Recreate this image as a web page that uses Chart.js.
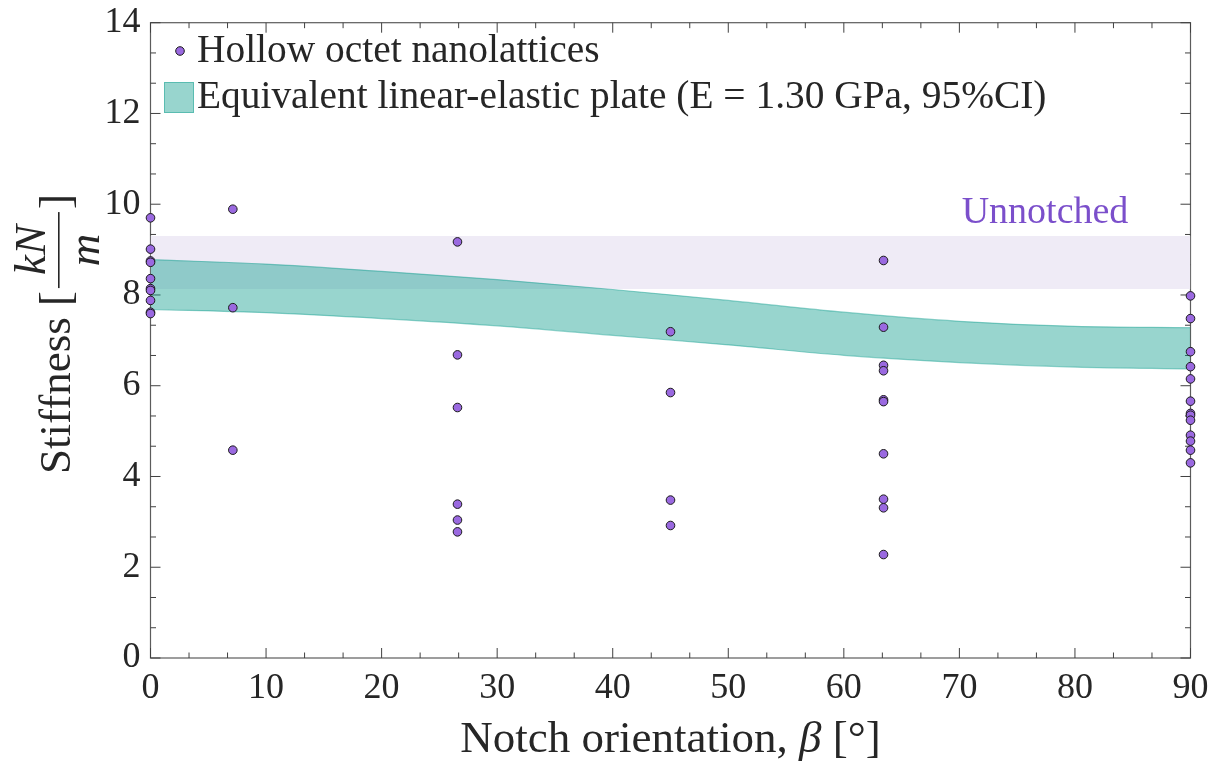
<!DOCTYPE html>
<html>
<head>
<meta charset="utf-8">
<script src="https://cdn.jsdelivr.net/npm/chart.js@4"></script>
<style>
  html, body { margin: 0; padding: 0; background: #fff; }
  #wrap { width: 1217px; height: 766px; position: relative; }
</style>
</head>
<body>
<div id="wrap"><canvas id="stiffChart"></canvas></div>
<script>
// notch orientations (deg) and measured stiffness per orientation (kN/m)
const notchAngles = [0, 7.125, 26.565, 45, 63.435, 90];
const stiffAt0 = [9.70, 9.01, 8.75, 8.72, 8.36, 8.14, 8.10, 7.88, 7.62, 7.59];
const stiffAt7 = [9.89, 7.72, 4.58];
const stiffAt27 = [9.17, 6.68, 5.52, 3.39, 3.04, 2.78];
const stiffAt45 = [7.19, 5.85, 3.48, 2.92];
const stiffAt63 = [8.76, 7.29, 6.45, 6.33, 5.69, 5.65, 4.50, 3.50, 3.31, 2.28];
const stiffAt90 = [7.98, 7.48, 6.75, 6.42, 6.15, 5.66, 5.39, 5.35, 5.24, 4.91, 4.78, 4.58, 4.30];

// linear-elastic plate prediction, 95% CI bounds
const plateBeta = [0, 10, 20, 30, 40, 50, 60, 70, 80, 90];
const plateUpper = [8.78, 8.68, 8.52, 8.34, 8.12, 7.88, 7.62, 7.42, 7.31, 7.28];
const plateLower = [7.68, 7.61, 7.48, 7.32, 7.11, 6.90, 6.67, 6.51, 6.41, 6.37];

// unnotched specimen range
const unnotchedRange = [8.13, 9.30];

const xTicks = [0, 10, 20, 30, 40, 50, 60, 70, 80, 90];
const yTicks = [0, 2, 4, 6, 8, 10, 12, 14];

const FONT = '"Liberation Serif", "Times New Roman", serif';
const TEXT = '#262626';
const PURPLE = '#9A69E0';
const TEAL_FILL = 'rgba(16, 157, 141, 0.43)';
const TEAL_EDGE = 'rgba(16, 157, 141, 0.45)';
const LAVENDER = '#EFEBF6';

const groups = [stiffAt0, stiffAt7, stiffAt27, stiffAt45, stiffAt63, stiffAt90];
const points = [];
groups.forEach((vals, i) => {
    vals.forEach(v => points.push({ x: notchAngles[i], y: v }));
});

const toXY = (xs, ys) => xs.map((x, i) => ({ x: x, y: ys[i] }));

// inward ticks on all four sides + box
const boxPlugin = {
    id: 'box',
    beforeDatasetsDraw(chart) {
        const { ctx, chartArea: a, scales } = chart;
        const xs = scales.x, ys = scales.y;
        ctx.save();
        ctx.strokeStyle = '#5c5c5c';
        ctx.lineWidth = 1.2;
        ctx.strokeRect(a.left, a.top, a.right - a.left, a.bottom - a.top);
        ctx.strokeStyle = '#404040';
        ctx.lineWidth = 1;
        const major = 10, minor = 5.5;
        for (let k = 0; k <= 27; k++) {
            const v = k * 10 / 3;
            const len = (k % 3 === 0) ? major : minor;
            const px = xs.getPixelForValue(v);
            ctx.beginPath();
            ctx.moveTo(px, a.bottom); ctx.lineTo(px, a.bottom - len);
            ctx.moveTo(px, a.top); ctx.lineTo(px, a.top + len);
            ctx.stroke();
        }
        for (let k = 0; k <= 21; k++) {
            const v = k * 2 / 3;
            const len = (k % 3 === 0) ? major : minor;
            const py = ys.getPixelForValue(v);
            ctx.beginPath();
            ctx.moveTo(a.left, py); ctx.lineTo(a.left + len, py);
            ctx.moveTo(a.right, py); ctx.lineTo(a.right - len, py);
            ctx.stroke();
        }
        ctx.restore();
    }
};

// axis titles, legend and the "Unnotched" note
const labelsPlugin = {
    id: 'labels',
    afterDraw(chart) {
        const { ctx, chartArea: a } = chart;
        ctx.save();
        ctx.fillStyle = TEXT;
        ctx.textBaseline = 'alphabetic';

        // x title: Notch orientation, β [°]
        const titleSize = 45;
        const parts = [
            { t: 'Notch orientation, ', f: `${titleSize}px ${FONT}` },
            { t: 'β', f: `italic ${titleSize}px ${FONT}` },
            { t: ' [°]', f: `${titleSize}px ${FONT}` }
        ];
        let total = 0;
        parts.forEach(p => { ctx.font = p.f; p.w = ctx.measureText(p.t).width; total += p.w; });
        let x = (a.left + a.right) / 2 - total / 2;
        ctx.textAlign = 'left';
        parts.forEach(p => { ctx.font = p.f; ctx.fillText(p.t, x, 752); x += p.w; });

        // y title: Stiffness [kN/m], rotated
        ctx.save();
        ctx.translate(70, 474);
        ctx.rotate(-Math.PI / 2);
        ctx.font = `${titleSize}px ${FONT}`;
        ctx.fillText('Stiffness', 0, 0);
        let u = ctx.measureText('Stiffness ').width;
        ctx.fillText('[', u, 0);
        u += ctx.measureText('[').width + 3;
        ctx.font = `italic ${titleSize}px ${FONT}`;
        const wNum = ctx.measureText('kN').width;
        const wDen = ctx.measureText('m').width;
        const wFrac = Math.max(wNum, wDen) + 26;
        ctx.textAlign = 'center';
        ctx.fillText('kN', u + wFrac / 2, -25);
        ctx.fillText('m', u + wFrac / 2, 29);
        ctx.fillRect(u, -12, wFrac, 1.6);
        u += wFrac + 3;
        ctx.textAlign = 'left';
        ctx.font = `${titleSize}px ${FONT}`;
        ctx.fillText(']', u, 0);
        ctx.restore();

        // legend
        const legSize = 39.4;
        ctx.font = `${legSize}px ${FONT}`;
        ctx.textBaseline = 'middle';
        ctx.beginPath();
        ctx.arc(180, 51, 4.3, 0, Math.PI * 2);
        ctx.fillStyle = PURPLE;
        ctx.fill();
        ctx.strokeStyle = '#1a1a1a';
        ctx.lineWidth = 1;
        ctx.stroke();
        ctx.fillStyle = TEXT;
        ctx.fillText('Hollow octet nanolattices', 197, 52);

        ctx.fillStyle = TEAL_FILL;
        ctx.fillRect(164, 82, 30, 31);
        ctx.strokeStyle = TEAL_EDGE;
        ctx.strokeRect(164.5, 82.5, 29, 30);
        ctx.fillStyle = TEXT;
        ctx.fillText('Equivalent linear-elastic plate (E = 1.30 GPa, 95%CI)', 197, 98);

        // unnotched note
        ctx.font = `38px ${FONT}`;
        ctx.fillStyle = '#7B4FCB';
        ctx.textAlign = 'center';
        ctx.fillText('Unnotched', 1045, 213);
        ctx.restore();
    }
};

const ctx = document.getElementById('stiffChart').getContext('2d');
new Chart(ctx, {
    data: {
        datasets: [{
            type: 'scatter',
            label: 'Hollow octet nanolattices',
            data: points,
            pointRadius: 4.3,
            pointBackgroundColor: PURPLE,
            pointBorderColor: '#1a1a1a',
            pointBorderWidth: 1,
            clip: false,
            order: 0
        }, {
            type: 'line',
            label: 'plate upper',
            data: toXY(plateBeta, plateUpper),
            borderColor: TEAL_EDGE,
            borderWidth: 1.2,
            pointRadius: 0,
            cubicInterpolationMode: 'monotone',
            fill: false,
            order: 1
        }, {
            type: 'line',
            label: 'plate lower',
            data: toXY(plateBeta, plateLower),
            borderColor: TEAL_EDGE,
            backgroundColor: TEAL_FILL,
            borderWidth: 1.2,
            pointRadius: 0,
            cubicInterpolationMode: 'monotone',
            fill: '-1',
            order: 1
        }, {
            type: 'line',
            label: 'unnotched upper',
            data: toXY([0, 90], [unnotchedRange[1], unnotchedRange[1]]),
            borderWidth: 0,
            pointRadius: 0,
            fill: false,
            order: 2
        }, {
            type: 'line',
            label: 'unnotched lower',
            data: toXY([0, 90], [unnotchedRange[0], unnotchedRange[0]]),
            borderWidth: 0,
            backgroundColor: LAVENDER,
            pointRadius: 0,
            fill: '-1',
            order: 2
        }]
    },
    options: {
        responsive: true,
        maintainAspectRatio: false,
        animation: false,
        layout: { padding: { top: 22.7, right: 26.5, bottom: 0, left: 0 } },
        plugins: {
            legend: { display: false },
            tooltip: { enabled: false }
        },
        scales: {
            x: {
                type: 'linear',
                min: 0,
                max: 90,
                afterBuildTicks: s => { s.ticks = xTicks.map(v => ({ value: v })); },
                afterFit: s => { s.height = 108; s.paddingLeft = 0; s.paddingRight = 0; },
                grid: { display: false, drawTicks: false },
                border: { display: false },
                ticks: { color: TEXT, padding: 9, maxRotation: 0, font: { family: FONT, size: 36 } }
            },
            y: {
                type: 'linear',
                min: 0,
                max: 14,
                afterBuildTicks: s => { s.ticks = yTicks.map(v => ({ value: v })); },
                afterFit: s => { s.width = 150.5; s.paddingTop = 0; s.paddingBottom = 0; },
                grid: { display: false, drawTicks: false },
                border: { display: false },
                ticks: { color: TEXT, padding: 10, font: { family: FONT, size: 36 } }
            }
        }
    },
    plugins: [boxPlugin, labelsPlugin]
});
</script>
</body>
</html>
